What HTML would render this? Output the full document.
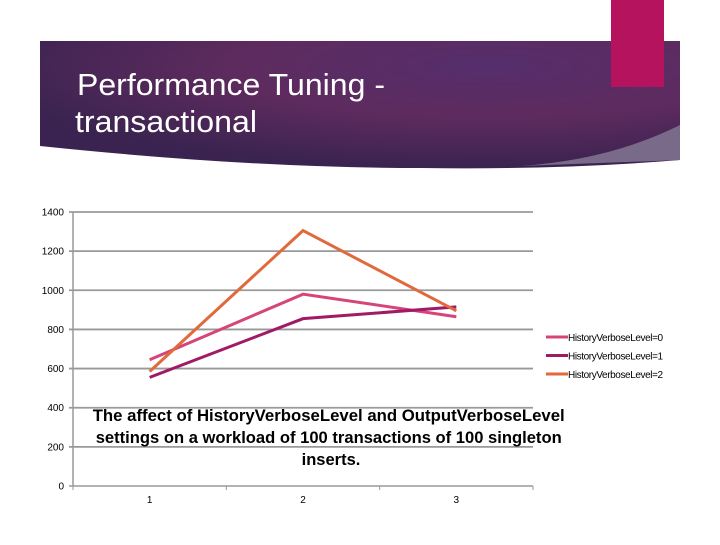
<!DOCTYPE html>
<html><head><meta charset="utf-8"><style>
body{margin:0;width:720px;height:540px;background:#fff;overflow:hidden;font-family:"Liberation Sans",sans-serif}
</style></head><body>
<svg width="720" height="540">
<defs>
<radialGradient id="bg" cx="0.7" cy="0.2" r="0.8">
<stop offset="0" stop-color="#552e6c"/><stop offset="0.5" stop-color="#5e2b5e"/><stop offset="1" stop-color="#3a2350"/>
</radialGradient>
</defs>
<path d="M40 41 H680 V160 Q560 170 420 168 Q250 168 40 146 Z" fill="url(#bg)"/>
<path d="M520 166 Q610 160 680 125 V160 Z" fill="#7a6a8a"/>
<rect x="611" y="0" width="53" height="87" fill="#b5135e"/>
<text x="77" y="95" font-size="31" fill="#fff" textLength="308" lengthAdjust="spacingAndGlyphs">Performance Tuning -</text>
<text x="75" y="132" font-size="31" fill="#fff" textLength="182" lengthAdjust="spacingAndGlyphs">transactional</text>
<g id="chart"></g>
<text font-size="16.5" font-weight="bold" text-anchor="middle" fill="#000">
<tspan x="331" y="421" textLength="472" lengthAdjust="spacingAndGlyphs">The affect of HistoryVerboseLevel and OutputVerboseLevel</tspan>
<tspan x="331" y="443" textLength="466" lengthAdjust="spacingAndGlyphs">settings on a workload of 100 transactions of 100 singleton</tspan>
<tspan x="331" y="465">inserts.</tspan>
</text>
</svg>
<script>
const categories=["1","2","3"];
const yTicks=[0,200,400,600,800,1000,1200,1400];
const seriesNames=["HistoryVerboseLevel=0","HistoryVerboseLevel=1","HistoryVerboseLevel=2"];
const s0=[645,980,865];
const s1=[555,855,915];
const s2=[585,1305,895];
const colors=["#d6457a","#a01a66","#e06a3c"];
const NS="http://www.w3.org/2000/svg";
const g=document.getElementById('chart');
const X0=73,X1=533,Y0=486,Y1=212,YMAX=1400;
const cw=(X1-X0)/categories.length;
const xs=i=>X0+cw*(i+0.5);
const ys=v=>Y0-(v/YMAX)*(Y0-Y1);
function mk(t,a){const e=document.createElementNS(NS,t);for(const k in a)e.setAttribute(k,a[k]);g.appendChild(e);return e;}
yTicks.forEach(v=>{
 const l=mk('line',{x1:X0-4,x2:X1,y1:ys(v),y2:ys(v),stroke:'#999','stroke-width':v===0?1.5:1.8});
 
 
 const t=mk('text',{x:X0-9,y:ys(v)+3.5,'font-size':10,'text-anchor':'end',fill:'#000'});
 t.textContent=v;
 
 
});
const ax=mk('line',{x1:X0,x2:X0,y1:Y1,y2:Y0,stroke:'#999','stroke-width':1.5});


for(let i=0;i<=categories.length;i++){
 const tk=mk('line',{x1:X0+cw*i,x2:X0+cw*i,y1:Y0,y2:Y0+4,stroke:'#999'});
 
 
}
categories.forEach((c,i)=>{
 const t=mk('text',{x:xs(i),y:Y0+17,'font-size':10,'text-anchor':'middle',fill:'#000'});
 t.textContent=c;
 
 
});
[s0,s1,s2].forEach((s,k)=>{
 const p=mk('polyline',{points:s.map((v,i)=>xs(i)+','+ys(v)).join(' '),fill:'none',stroke:colors[k],'stroke-width':3});
 
 
 const ly=337+k*18.5;
 const ll=mk('line',{x1:546,x2:568,y1:ly,y2:ly,stroke:colors[k],'stroke-width':3});
 
 
 const lt=mk('text',{x:568,y:ly+4,'font-size':10,fill:'#000','letter-spacing':'-0.4'});
 lt.textContent=seriesNames[k];
 
 
});
</script>
</body></html>
